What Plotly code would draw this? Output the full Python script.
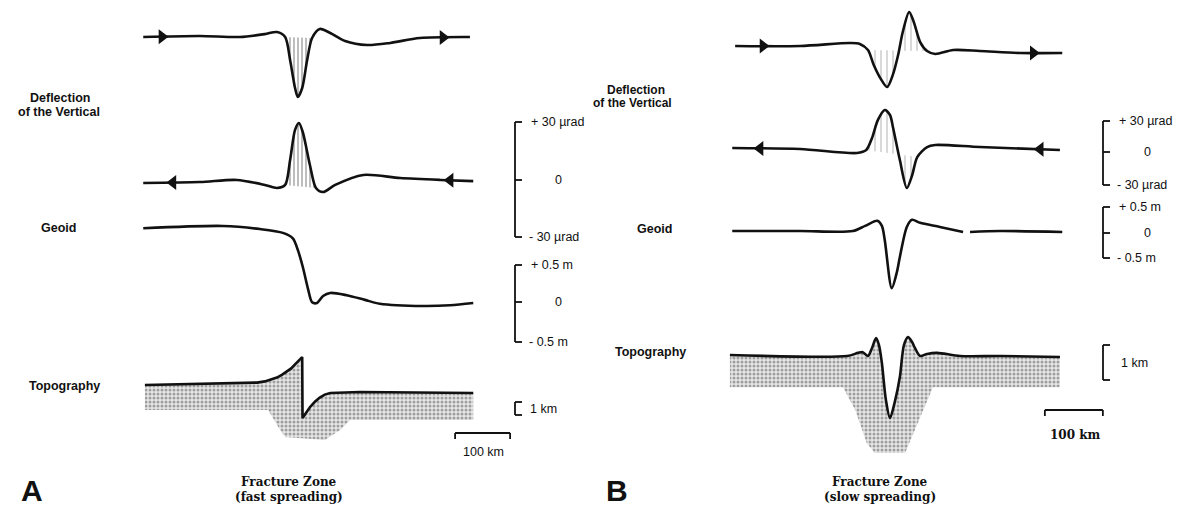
import numpy as np
import plotly.graph_objects as go

W, H = 1196, 516          # browser window
OFF = 8                   # default page margin around the plot div
FW, FH = W - 2 * OFF, H - 2 * OFF

# ---------------- Panel A : fast-spreading fracture zone (x in km) ----------------
a_defl_top_x = [-285, -182, -109, -64, -42, -27, -18, -9, -4, 4, 13, 22, 36, 55, 82, 122, 164, 218, 309]
a_defl_top_y = [0, 0.5, 0, 1.5, 2.6, 0, -12, -26.6, -31.3, -26.6, -12, -0.5, 4.2, 2.1, -2.1, -4.2, -3.1, -0.5, 0]

a_defl_bot_x = [-285, -182, -115, -64, -42, -27, -18, -9, -2, 5, 18, 29, 42, 64, 115, 182, 255, 315]
a_defl_bot_y = [0, 0.5, 1.6, -1, -2.6, -1, 12, 27.7, 31.3, 26.6, 9.4, -2.6, -4.7, -1, 4.2, 2.6, 1.6, 1]

a_geoid_x = [-285, -140, -73, -31, -13, -4, 5, 15, 22, 31, 42, 55, 85, 118, 145, 224, 273, 315]
a_geoid_y = [0.49, 0.52, 0.48, 0.43, 0.36, 0.21, -0.01, -0.31, -0.47, -0.48, -0.39, -0.35, -0.38, -0.44, -0.49, -0.52, -0.51, -0.48]

a_topo_x = [-282, -182, -100, -78, -64, -52, -42, -33, -24, -16, -9, -3, 2, 4, 4.6, 10, 18, 27, 36, 45, 55, 109, 315]
a_topo_y = [0, 0.08, 0.12, 0.2, 0.3, 0.45, 0.62, 0.85, 1.12, 1.38, 1.72, 2.02, 2.25, 2.33, -2.75, -2.35, -1.85, -1.4, -1.05, -0.8, -0.67, -0.58, -0.67]

a_base_x = [-282, -58, -36, -27, 45, 73, 91, 315]
a_base_y = [-2.08, -2.08, -3.75, -4.33, -4.58, -3.75, -2.92, -2.92]

a_arrows_top = [-251, 260]
a_arrows_bot = [-231, 273]

# ---------------- Panel B : slow-spreading fracture zone (x in km) ----------------
b_defl_top_x = [-267, -155, -69, -52, -38, -28, -17, -5, 5, 14, 22, 33, 41, 52, 64, 78, 109, 155, 224, 297]
b_defl_top_y = [1.9, 1.9, 4.7, 3.8, -1.9, -16, -28, -36.6, -25, -6.6, 15, 33.8, 24.4, 5.6, -2.8, -5.6, -1.9, -2.8, -4.7, -4.7]

b_defl_bot_x = [-272, -155, -57, -41, -31, -21, -9, 0, 5, 17, 29, 38, 47, 64, 78, 155, 293]
b_defl_bot_y = [1.9, 0.9, -2.8, 0, 11.3, 28, 37.5, 32.8, 21.6, -9.4, -35.6, -24, -6.6, 2.8, 4.7, 2.8, 0]

b_geoid_x = [-272, -155, -64, -43, -22, -14, -9, 3, 12, 17, 29, 38, 52, 86, 126, None, 138, 190, 297]
b_geoid_y = [0, 0, 0, 0.1, 0.2, 0.1, -0.18, -1.12, -0.8, -0.51, 0.08, 0.22, 0.16, 0.08, -0.02, None, -0.02, 0, -0.02]

b_topo_x = [-276, -74, -55, -47, -38, -31, -24, -19, -14, -7, 0, 9, 17, 24, 31, 38, 43, 52, 64, 81, 121, 190, 293]
b_topo_y = [0.03, 0, 0.09, 0.11, 0, 0.23, 0.51, 0.31, -0.2, -1.26, -1.77, -1.26, -0.6, 0.31, 0.54, 0.4, 0.23, 0, 0.06, 0.09, 0, 0, -0.03]

b_base_x = [-276, -81, -60, -40, -26, 26, 43, 74, 293]
b_base_y = [-0.89, -0.89, -1.54, -2.49, -2.77, -2.77, -2.11, -0.89, -0.89]

b_arrows_top = [-219, 247]
b_arrows_bot = [-224, 259]

# ---------------- layout helpers (placement only, page-pixel based) ----------------
def yrange(p0, px_per_unit):
    f0 = p0 - OFF
    return [-(FH - f0) / px_per_unit, f0 / px_per_unit]

def xrange(p0, px_per_km):
    f0 = p0 - OFF
    return [-f0 / px_per_km, (FW - f0) / px_per_km]

def P(x, y):
    return (x - OFF) / FW, 1 - (y - OFF) / FH

fig = go.Figure()
INK = "#111111"

def curve(x, y, xa, ya, shape="spline", width=2.6):
    fig.add_trace(go.Scatter(x=x, y=y, xaxis=xa, yaxis=ya, mode="lines",
                             line=dict(color=INK, width=width, shape=shape, smoothing=0.8),
                             connectgaps=False, hoverinfo="skip", showlegend=False))

def hatch(x, y, lo, hi, xa, ya, shape="|", size=5, color="#000", sol=0.2):
    x = np.array(x, float); y = np.array(y, float)
    m = (x >= lo) & (x <= hi)
    fig.add_trace(go.Scatter(x=x[m], y=y[m], xaxis=xa, yaxis=ya, mode="lines", fill="toself",
                             line=dict(width=0, shape="spline", smoothing=0.8),
                             fillcolor="rgba(255,255,255,0)",
                             fillpattern=dict(shape=shape, fgcolor=color, bgcolor="rgba(255,255,255,0)",
                                              size=size, solidity=sol),
                             hoverinfo="skip", showlegend=False))

def stipple(cx, cy, bx, by, xa, ya, shape="linear"):
    px = list(cx) + list(bx)[::-1]
    py = list(cy) + list(by)[::-1]
    fig.add_trace(go.Scatter(x=px, y=py, xaxis=xa, yaxis=ya, mode="lines", fill="toself",
                             line=dict(width=0, shape=shape, smoothing=0.8), fillcolor="rgba(255,255,255,0)",
                             fillpattern=dict(shape=".", fgcolor="#555555", bgcolor="#e6e6e6",
                                              size=4, solidity=0.45),
                             hoverinfo="skip", showlegend=False))

def arrows(xs, cx, cy, xa, ya, sym):
    ys = np.interp(xs, cx, cy)
    fig.add_trace(go.Scatter(x=xs, y=ys, xaxis=xa, yaxis=ya, mode="markers",
                             marker=dict(symbol=sym, size=13, color=INK, line=dict(width=0)),
                             hoverinfo="skip", showlegend=False))

# Panel A
hatch(a_defl_top_x, a_defl_top_y, -27, 22, "x", "y", size=4, sol=0.3, color="#222")
hatch(a_defl_bot_x, a_defl_bot_y, -27, 29, "x", "y2", size=4, sol=0.3, color="#222")
stipple(a_topo_x, a_topo_y, a_base_x, a_base_y, "x", "y4")
curve(a_defl_top_x, a_defl_top_y, "x", "y")
curve(a_defl_bot_x, a_defl_bot_y, "x", "y2")
curve(a_geoid_x, a_geoid_y, "x", "y3")
curve(a_topo_x, a_topo_y, "x", "y4", shape="linear")
arrows(a_arrows_top, a_defl_top_x, a_defl_top_y, "x", "y", "triangle-right")
arrows(a_arrows_bot, a_defl_bot_x, a_defl_bot_y, "x", "y2", "triangle-left")

# Panel B
hatch(b_defl_top_x, b_defl_top_y, -38, 64, "x2", "y5", shape="|", size=6, color="#555", sol=0.15)
hatch(b_defl_bot_x, b_defl_bot_y, -41, 60, "x2", "y6", shape="|", size=6, color="#555", sol=0.15)
stipple(b_topo_x, b_topo_y, b_base_x, b_base_y, "x2", "y8")
curve(b_defl_top_x, b_defl_top_y, "x2", "y5")
curve(b_defl_bot_x, b_defl_bot_y, "x2", "y6")
curve(b_geoid_x, b_geoid_y, "x2", "y7")
curve(b_topo_x, b_topo_y, "x2", "y8")
arrows(b_arrows_top, b_defl_top_x, b_defl_top_y, "x2", "y5", "triangle-right")
arrows(b_arrows_bot, b_defl_bot_x, b_defl_bot_y, "x2", "y6", "triangle-left")

hidden = dict(visible=False, showgrid=False, zeroline=False, fixedrange=True)
layout_axes = dict(
    xaxis=dict(range=xrange(300, 0.55), domain=[0, 1], **hidden),
    xaxis2=dict(range=xrange(890, 0.58), overlaying="x", **hidden),
    yaxis=dict(range=yrange(37, 57.5 / 30), domain=[0, 1], **hidden),
    yaxis2=dict(range=yrange(183, 57.5 / 30), overlaying="y", **hidden),
    yaxis3=dict(range=yrange(266, 77), overlaying="y", **hidden),
    yaxis4=dict(range=yrange(385, 12), overlaying="y", **hidden),
    yaxis5=dict(range=yrange(48, 64 / 60), overlaying="y", **hidden),
    yaxis6=dict(range=yrange(150, 64 / 60), overlaying="y", **hidden),
    yaxis7=dict(range=yrange(231, 51), overlaying="y", **hidden),
    yaxis8=dict(range=yrange(356, 35), overlaying="y", **hidden),
)

# ---------------- decorations ----------------
shapes = []
def seg(x0, y0, x1, y1, w=1.8):
    a, b = P(x0, y0); c, d = P(x1, y1)
    shapes.append(dict(type="line", xref="paper", yref="paper", x0=a, y0=b, x1=c, y1=d,
                       line=dict(color=INK, width=w)))

def bracket(x, ytop, ymid, ybot, tick=7):
    seg(x, ytop, x, ybot)
    seg(x, ytop, x + tick, ytop)
    seg(x, ybot, x + tick, ybot)
    if ymid is not None:
        seg(x, ymid, x + tick, ymid)

bracket(515, 122, 180, 237)
bracket(515, 265, 302, 342)
bracket(515, 402, None, 415)
bracket(1103, 121, 152, 185)
bracket(1103, 207, 233, 258)
bracket(1103, 345, None, 380)

def kmbar(xa, x0km, ypx):
    yb = P(0, ypx)[1]
    yt = P(0, ypx + 6)[1]
    for (u0, v0, u1, v1) in [(x0km, yb, x0km + 100, yb), (x0km, yb, x0km, yt),
                             (x0km + 100, yb, x0km + 100, yt)]:
        shapes.append(dict(type="line", xref=xa, yref="paper", x0=u0, y0=v0, x1=u1, y1=v1,
                           line=dict(color=INK, width=1.8)))
kmbar("x", 282, 433)
kmbar("x2", 267, 410)

ann = []
def txt(s, x, y, size=11, anchor="left", fam="Liberation Sans", bold=False):
    a, b = P(x, y)
    if bold:
        s = "<b>" + s + "</b>"
    ann.append(dict(text=s, x=a, y=b, xref="paper", yref="paper", xanchor=anchor, yanchor="middle",
                    showarrow=False, font=dict(size=size, family=fam, color=INK)))

LBL = "Liberation Sans"
SER = "DejaVu Serif"
# Panel A labels
txt("Deflection", 60, 98, 12.5, "center", LBL, True)
txt("of the Vertical", 59, 112, 12.5, "center", LBL, True)
txt("Geoid", 58, 228, 12.5, "center", LBL, True)
txt("Topography", 64, 386, 12.5, "center", LBL, True)
txt("+ 30 µrad", 529, 122, 12.5)
txt("0", 553, 180, 12.5)
txt("- 30 µrad", 527, 237, 12.5)
txt("+ 0.5 m", 529, 265, 12.5)
txt("0", 553, 302, 12.5)
txt("- 0.5 m", 527, 342, 12.5)
txt("1 km", 528, 409, 12.5)
txt("100 km", 483, 452, 12.5, "center")
txt("Fracture Zone", 289, 482, 12, "center", SER, True)
txt("(fast spreading)", 289, 497, 12, "center", SER, True)
txt("A", 32, 490, 30, "center", LBL, True)

# Panel B labels
txt("Deflection", 636, 90, 12, "center", LBL, True)
txt("of the Vertical", 632, 103, 12, "center", LBL, True)
txt("Geoid", 654, 229, 12.5, "center", LBL, True)
txt("Topography", 650, 352, 12.5, "center", LBL, True)
txt("+ 30 µrad", 1117, 121, 12.5)
txt("0", 1142, 152, 12.5)
txt("- 30 µrad", 1115, 185, 12.5)
txt("+ 0.5 m", 1117, 207, 12.5)
txt("0", 1142, 233, 12.5)
txt("- 0.5 m", 1115, 258, 12.5)
txt("1 km", 1119, 363, 12.5)
txt("100 km", 1075, 435, 12, "center", SER, True)
txt("Fracture Zone", 880, 482, 12, "center", SER, True)
txt("(slow spreading)", 880, 497, 12, "center", SER, True)
txt("B", 617, 490, 30, "center", LBL, True)

fig.update_layout(width=FW, height=FH, margin=dict(l=0, r=0, t=0, b=0),
                  paper_bgcolor="white", plot_bgcolor="white",
                  shapes=shapes, annotations=ann, showlegend=False, **layout_axes)

fig.write_html("out.html", config=dict(displayModeBar=False))
